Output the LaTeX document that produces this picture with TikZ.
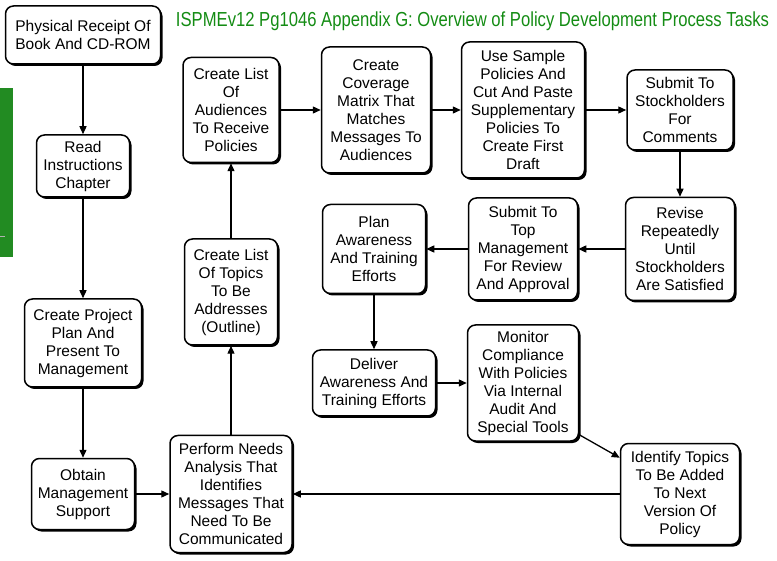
\documentclass[tikz,border=0pt]{standalone}
\usepackage{fontspec}
\setmainfont{Liberation Sans}
\newfontfamily\titlefont[FakeStretch=0.82]{Liberation Sans}
\usepackage{xcolor}
\usetikzlibrary{positioning, arrows.meta, shadows}
\definecolor{titlegreen}{RGB}{20,140,20}
\definecolor{bargreen}{RGB}{34,139,34}

\begin{document}
\begin{tikzpicture}[x=1pt, y=-1pt, ->, >={Triangle[length=8pt, width=7pt]}, line width=1.3pt,
        task/.style={draw, rounded corners=8pt, fill=white, align=center, line width=1.5pt, inner sep=2pt,
            font=\fontsize{15.5}{18}\selectfont,
            drop shadow={shadow xshift=2pt, shadow yshift=-2pt, fill=black, opacity=1}}]
        \useasboundingbox (0,0) rectangle (777,561);
        \fill[bargreen] (0,88) rectangle (13,257);
        \draw[-, gray!60, line width=1pt] (0,237) -- (5,237);
        \node[anchor=west, text=titlegreen, font=\titlefont\fontsize{20.3}{24}\selectfont] (TITLE) at (172,21)
            {ISPMEv12 Pg1046 Appendix G: Overview of Policy Development Process Tasks};

        \node[task, minimum width=155pt, minimum height=58pt] (PHYS) at (83,35) {Physical Receipt Of\\Book And CD-ROM};
        \node[task, minimum width=93pt, minimum height=62pt, below of=PHYS, node distance=131pt] (READ) {Read\\Instructions\\Chapter};
        \node[task, minimum width=117pt, minimum height=88pt, below of=READ, node distance=177pt] (PLAN) {Create Project\\Plan And\\Present To\\Management};
        \node[task, minimum width=103pt, minimum height=71pt, below of=PLAN, node distance=151pt] (MGMT) {Obtain\\Management\\Support};
        \node[task, minimum width=122pt, minimum height=117pt, right of=MGMT, node distance=148pt] (NEEDS) {Perform Needs\\Analysis That\\Identifies\\Messages That\\Need To Be\\Communicated};
        \node[task, minimum width=93pt, minimum height=106pt, above of=NEEDS, node distance=202pt] (TOPICS) {Create List\\Of Topics\\To Be\\Addresses\\(Outline)};
        \node[task, minimum width=96pt, minimum height=105pt, above of=TOPICS, node distance=182pt] (AUDIENCE) {Create List\\Of\\Audiences\\To Receive\\Policies};
        \node[task, minimum width=109pt, minimum height=126pt, right of=AUDIENCE, node distance=145pt] (MATRIX) {Create\\Coverage\\Matrix That\\Matches\\Messages To\\Audiences};
        \node[task, minimum width=123pt, minimum height=136pt, right of=MATRIX, node distance=147pt] (SAMPLE) {Use Sample\\Policies And\\Cut And Paste\\Supplementary\\Policies To\\Create First\\Draft};
        \node[task, minimum width=106pt, minimum height=80pt, right of=SAMPLE, node distance=157pt] (STOCK) {Submit To\\Stockholders\\For\\Comments};
        \node[task, minimum width=109pt, minimum height=103pt, below of=STOCK, node distance=139pt] (REVISE) {Revise\\Repeatedly\\Until\\Stockholders\\Are Satisfied};
        \node[task, minimum width=109pt, minimum height=102pt, left of=REVISE, node distance=157pt] (TOPMGMT) {Submit To\\Top\\Management\\For Review\\And Approval};
        \node[task, minimum width=103pt, minimum height=89pt, left of=TOPMGMT, node distance=149pt] (AWARE) {Plan\\Awareness\\And Training\\Efforts};
        \node[task, minimum width=123pt, minimum height=66pt, below of=AWARE, node distance=134pt] (DELIVER) {Deliver\\Awareness And\\Training Efforts};
        \node[task, minimum width=111pt, minimum height=116pt, right of=DELIVER, node distance=149pt] (MONITOR) {Monitor\\Compliance\\With Policies\\Via Internal\\Audit And\\Special Tools};
        \node[task, minimum width=119pt, minimum height=101pt, below of=REVISE, node distance=245pt] (IDENTIFY) {Identify Topics\\To Be Added\\To Next\\Version Of\\Policy};

        \path (PHYS) edge (READ)
              (READ) edge (PLAN)
              (PLAN) edge (MGMT)
              (MGMT) edge (NEEDS)
              (NEEDS) edge (TOPICS)
              (TOPICS) edge (AUDIENCE)
              (AUDIENCE) edge (MATRIX)
              (MATRIX) edge (SAMPLE)
              (SAMPLE) edge (STOCK)
              (STOCK) edge (REVISE)
              (REVISE) edge (TOPMGMT)
              (TOPMGMT) edge (AWARE)
              (AWARE) edge (DELIVER)
              (DELIVER) edge (MONITOR)
              ([yshift=7pt]MONITOR.south east) edge ([yshift=-15pt]IDENTIFY.north west)
              (IDENTIFY) edge (NEEDS);
    \end{tikzpicture}
\end{document}
